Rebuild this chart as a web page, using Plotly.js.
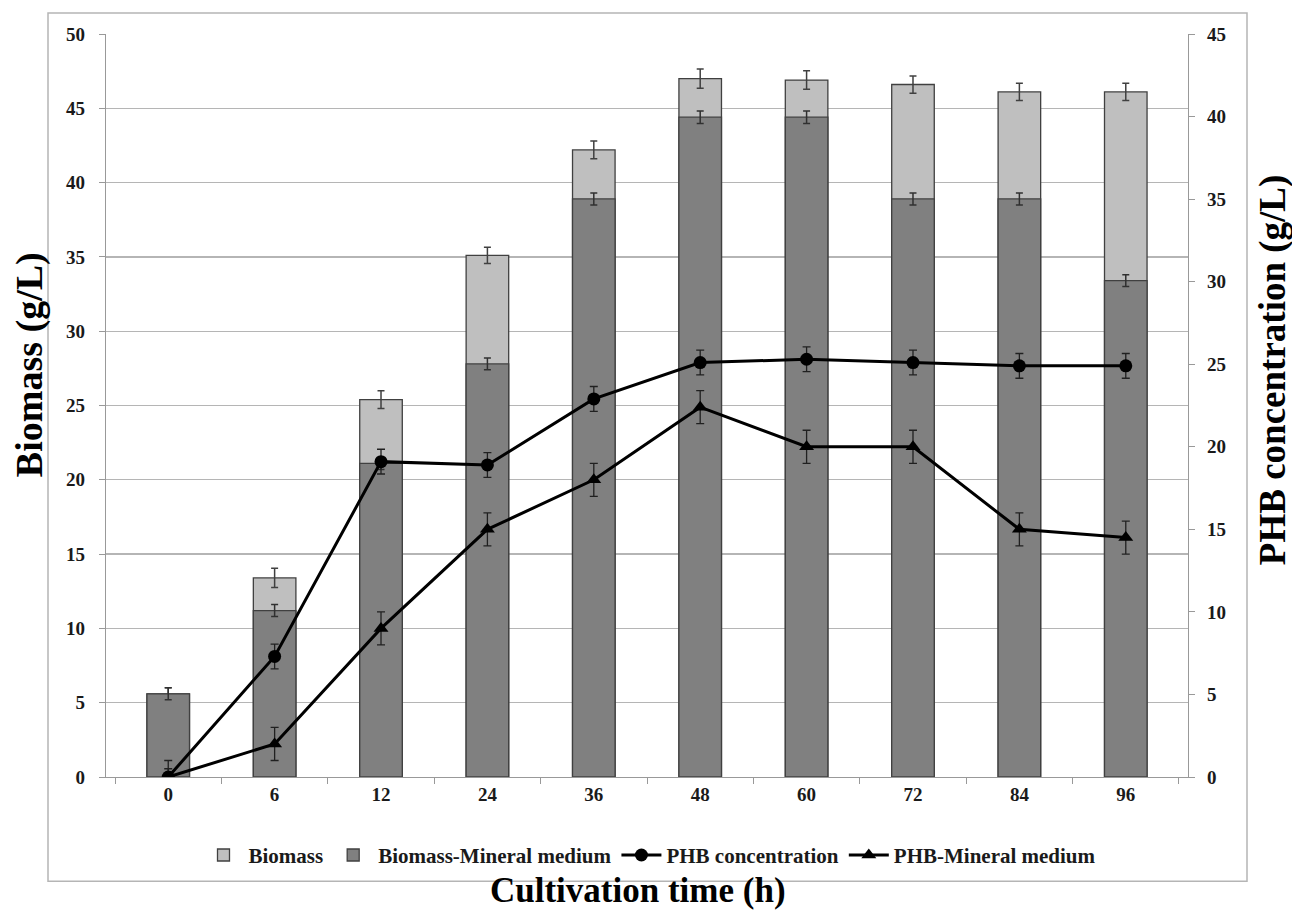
<!DOCTYPE html>
<html>
<head>
<meta charset="utf-8">
<script src="https://cdn.plot.ly/plotly-3.0.1.min.js"></script>
<style>html,body{margin:0;padding:0;background:#fff}#chart{width:1292px;height:913px}</style>
</head>
<body>
<div id="chart"></div>
<script>
const categories = ["0","6","12","24","36","48","60","72","84","96"];
const biomass = [5.6,13.4,25.4,35.1,42.2,47.0,46.9,46.6,46.1,46.1];
const biomassErr = [0.4,0.65,0.6,0.55,0.6,0.65,0.62,0.58,0.58,0.58];
const mineral = [5.6,11.2,21.1,27.8,38.9,44.4,44.4,38.9,38.9,33.4];
const mineralErr = [0.4,0.4,0.4,0.4,0.4,0.42,0.42,0.4,0.4,0.4];
const phb = [0,7.3,19.1,18.9,22.9,25.1,25.3,25.1,24.9,24.9];
const phbErr = [1.0,0.75,0.75,0.75,0.75,0.75,0.75,0.75,0.75,0.75];
const phbMineral = [0,2.0,9.0,15.0,18.0,22.4,20.0,20.0,15.0,14.5];
const phbMineralErr = [0.5,1.0,1.0,1.0,1.0,1.0,1.0,1.0,1.0,1.0];
const leftTicks = [0,5,10,15,20,25,30,35,40,45,50];
const rightTicks = [0,5,10,15,20,25,30,35,40,45];

const FONT = "Liberation Serif, Times New Roman, serif";
const tickFont = {family: FONT, size: 19, color: "#1a1a1a", weight: "bold"};

const traces = [
  {type:"bar", name:"Biomass", x:categories, y:biomass, width:0.4,
   marker:{color:"#bfbfbf", line:{color:"#404040", width:1.3}},
   error_y:{type:"data", array:biomassErr, visible:true, color:"#404040", thickness:1.5, width:3.5}},
  {type:"bar", name:"Biomass-Mineral medium", x:categories, y:mineral, width:0.4,
   marker:{color:"#808080", line:{color:"#404040", width:1.3}},
   error_y:{type:"data", array:mineralErr, visible:true, color:"#303030", thickness:1.5, width:3.5}},
  {type:"scatter", mode:"lines+markers", name:"PHB concentration", x:categories, y:phb, yaxis:"y2",
   line:{color:"#000", width:3}, marker:{symbol:"circle", size:13, color:"#000"},
   error_y:{type:"data", array:phbErr, visible:true, color:"#202020", thickness:1.3, width:4}},
  {type:"scatter", mode:"lines+markers", name:"PHB-Mineral medium", x:categories, y:phbMineral, yaxis:"y2",
   line:{color:"#000", width:3}, marker:{symbol:"triangle-up", size:13, color:"#000"},
   error_y:{type:"data", array:phbMineralErr, visible:true, color:"#202020", thickness:1.3, width:4}}
];

const px2x = p => (p - 106) / 1082;
const py2y = p => (776.7 - p) / 742.7;

const layout = {
  width:1292, height:913,
  margin:{l:106, r:104, t:34, b:136, pad:0},
  paper_bgcolor:"#fff", plot_bgcolor:"#fff",
  barmode:"overlay",
  showlegend:true,
  font:{family:FONT, color:"#1a1a1a"},
  xaxis:{type:"category", tickson:"boundaries", ticks:"outside", ticklen:6, tickcolor:"#999",
         showline:true, linecolor:"#999", linewidth:1.3, showgrid:false, zeroline:false,
         tickfont:tickFont, fixedrange:true},
  yaxis:{range:[0,50], tickvals:leftTicks, ticks:"outside", ticklen:6, tickcolor:"#999",
         showline:true, linecolor:"#999", linewidth:1.3, showgrid:true, gridcolor:"#b5b5b5", gridwidth:1.3,
         zeroline:false, tickfont:tickFont, ticklabelstandoff:10},
  yaxis2:{range:[0,45], tickvals:rightTicks, overlaying:"y", side:"right", ticks:"outside", ticklen:6,
          tickcolor:"#999", showline:true, linecolor:"#999", linewidth:1.3, showgrid:false, zeroline:false,
          tickfont:tickFont, ticklabelstandoff:8},
  legend:{orientation:"h", x:px2x(650), xanchor:"center", y:py2y(855), yanchor:"middle",
          font:{family:FONT, size:21, color:"#1a1a1a", weight:"bold"}, itemwidth:40, traceorder:"normal",
          bgcolor:"rgba(0,0,0,0)"},
  shapes:[
    {type:"rect", xref:"paper", yref:"paper", x0:px2x(48), x1:px2x(1247), y0:py2y(881), y1:py2y(13),
     line:{color:"#b5b5b5", width:1.5}, fillcolor:"rgba(0,0,0,0)", layer:"below"}
  ],
  annotations:[
    {text:"Cultivation time (h)", xref:"paper", yref:"paper", x:px2x(638), y:py2y(890), xanchor:"center", yanchor:"middle",
     showarrow:false, font:{family:FONT, size:35, color:"#000", weight:"bold"}},
    {text:"Biomass (g/L)", xref:"paper", yref:"paper", x:px2x(29), y:py2y(365), xanchor:"center", yanchor:"middle",
     textangle:-90, showarrow:false, font:{family:FONT, size:38, color:"#000", weight:"bold"}},
    {text:"PHB concentration (g/L)", xref:"paper", yref:"paper", x:px2x(1273), y:py2y(370), xanchor:"center", yanchor:"middle",
     textangle:-90, showarrow:false, font:{family:FONT, size:37, color:"#000", weight:"bold"}}
  ]
};

Plotly.newPlot("chart", traces, layout, {displayModeBar:false, staticPlot:true});
</script>
</body>
</html>
